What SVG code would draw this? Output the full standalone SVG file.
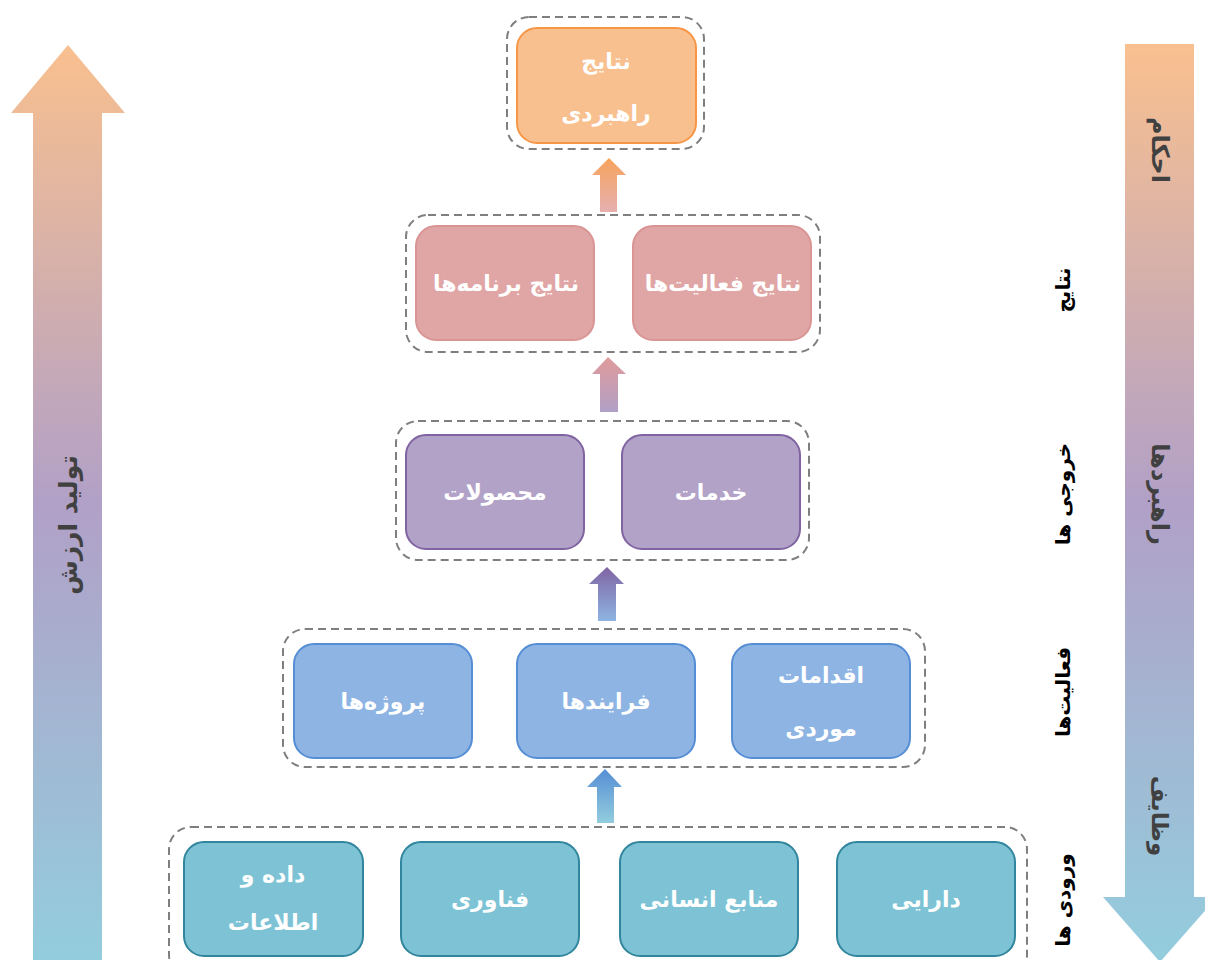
<svg xmlns="http://www.w3.org/2000/svg" width="1205" height="960" viewBox="0 0 1205 960">
<defs>
<linearGradient id="gBig" x1="0" y1="45" x2="0" y2="960" gradientUnits="userSpaceOnUse">
<stop offset="0" stop-color="#F9C08F"/>
<stop offset="0.5" stop-color="#B1A0C7"/>
<stop offset="1" stop-color="#93CDDD"/>
</linearGradient>
<linearGradient id="gA1" x1="0" y1="0" x2="0" y2="1"><stop offset="0" stop-color="#F7A35C"/><stop offset="1" stop-color="#E6B0B0"/></linearGradient>
<linearGradient id="gA2" x1="0" y1="0" x2="0" y2="1"><stop offset="0" stop-color="#E09A9A"/><stop offset="1" stop-color="#B1A0C7"/></linearGradient>
<linearGradient id="gA3" x1="0" y1="0" x2="0" y2="1"><stop offset="0" stop-color="#8064A2"/><stop offset="1" stop-color="#8EB4E3"/></linearGradient>
<linearGradient id="gA4" x1="0" y1="0" x2="0" y2="1"><stop offset="0" stop-color="#558ED5"/><stop offset="1" stop-color="#93CDDD"/></linearGradient>
<style>
.grp{fill:none;stroke:#7F7F7F;stroke-width:2;stroke-dasharray:8 5}
.box{stroke-width:2}
.orange{fill:#F9C08F;stroke:#F79646}
.red{fill:#E0A5A5;stroke:#D99594}
.purple{fill:#B2A2C8;stroke:#8064A2}
.blue{fill:#8EB4E3;stroke:#558ED5}
.teal{fill:#7DC3D5;stroke:#31859C}
.t{font-family:"DejaVu Sans","Noto Sans",sans-serif;font-weight:bold;fill:#FFFFFF;font-size:22px;text-anchor:middle;dominant-baseline:central}
.lab{font-family:"DejaVu Sans","Noto Sans",sans-serif;font-weight:bold;fill:#000000;font-size:20px;text-anchor:middle;dominant-baseline:central}
.side{font-family:"DejaVu Sans","Noto Sans",sans-serif;font-weight:bold;fill:#404040;font-size:24px;text-anchor:middle;dominant-baseline:central}
</style>
</defs>

<g id="value-arrow">
<polygon points="68,45 125,113 102,113 102,960 33,960 33,113 11,113" fill="url(#gBig)"/>
<text class="side" style="font-size:25px" transform="translate(68,525) rotate(-90)">تولید ارزش</text>
</g>

<g id="mandate-arrow">
<polygon points="1125,44 1194,44 1194,897 1217,897 1160,962 1103,897 1125,897" fill="url(#gBig)"/>
<text class="side" transform="translate(1160,150) rotate(90)">احکام</text>
<text class="side" transform="translate(1160,494) rotate(90)">راهبردها</text>
<text class="side" style="font-size:23px" transform="translate(1160,816) rotate(90)">وظایف</text>
</g>

<g id="labels">
<text class="lab" transform="translate(1063,290) rotate(-90)">نتایج</text>
<text class="lab" transform="translate(1063,494) rotate(-90)">خروجی ها</text>
<text class="lab" transform="translate(1063,692) rotate(-90)">فعالیت‌ها</text>
<text class="lab" transform="translate(1063,900) rotate(-90)">ورودی ها</text>
</g>

<g id="connectors">
<polygon points="609,158 626,175 617,175 617,212 600,212 600,175 592,175" fill="url(#gA1)"/>
<polygon points="608,357 626,374 618,374 618,412 600,412 600,374 592,374" fill="url(#gA2)"/>
<polygon points="607,567 624,584 616,584 616,621 598,621 598,584 589,584" fill="url(#gA3)"/>
<polygon points="605,769 622,787 614,787 614,823 597,823 597,787 587,787" fill="url(#gA4)"/>
</g>

<g id="group-strategic">
<rect class="grp" x="507" y="17" width="197" height="132" rx="22"/>
</g>
<g id="node-strategic">
<rect class="box orange" x="517" y="28" width="179" height="115" rx="20"/>
<text class="t" x="606" y="61">نتایج</text>
<text class="t" x="606" y="113">راهبردی</text>
</g>

<g id="group-results">
<rect class="grp" x="406" y="215" width="414" height="137" rx="22"/>
</g>
<g id="node-program-results">
<rect class="box red" x="416" y="226" width="178" height="114" rx="20"/>
<text class="t" x="506" y="283">نتایج برنامه‌ها</text>
</g>
<g id="node-activity-results">
<rect class="box red" x="633" y="226" width="178" height="114" rx="20"/>
<text class="t" x="723" y="283">نتایج فعالیت‌ها</text>
</g>

<g id="group-outputs">
<rect class="grp" x="396" y="421" width="413" height="139" rx="22"/>
</g>
<g id="node-products">
<rect class="box purple" x="406" y="435" width="178" height="114" rx="20"/>
<text class="t" x="495" y="492">محصولات</text>
</g>
<g id="node-services">
<rect class="box purple" x="622" y="435" width="178" height="114" rx="20"/>
<text class="t" x="711" y="492">خدمات</text>
</g>

<g id="group-activities">
<rect class="grp" x="283" y="629" width="642" height="138" rx="22"/>
</g>
<g id="node-projects">
<rect class="box blue" x="294" y="644" width="178" height="114" rx="20"/>
<text class="t" x="383" y="701">پروژه‌ها</text>
</g>
<g id="node-processes">
<rect class="box blue" x="517" y="644" width="178" height="114" rx="20"/>
<text class="t" x="606" y="701">فرایندها</text>
</g>
<g id="node-adhoc">
<rect class="box blue" x="732" y="644" width="178" height="114" rx="20"/>
<text class="t" x="821" y="675">اقدامات</text>
<text class="t" x="821" y="728">موردی</text>
</g>

<g id="group-inputs">
<rect class="grp" x="169" y="827" width="858" height="150" rx="22"/>
</g>
<g id="node-data">
<rect class="box teal" x="184" y="842" width="179" height="114" rx="20"/>
<text class="t" x="273" y="874">داده و</text>
<text class="t" x="273" y="922">اطلاعات</text>
</g>
<g id="node-technology">
<rect class="box teal" x="401" y="842" width="178" height="114" rx="20"/>
<text class="t" x="490" y="899">فناوری</text>
</g>
<g id="node-hr">
<rect class="box teal" x="620" y="842" width="178" height="114" rx="20"/>
<text class="t" x="709" y="899">منابع انسانی</text>
</g>
<g id="node-assets">
<rect class="box teal" x="837" y="842" width="178" height="114" rx="20"/>
<text class="t" x="926" y="899">دارایی</text>
</g>
</svg>
